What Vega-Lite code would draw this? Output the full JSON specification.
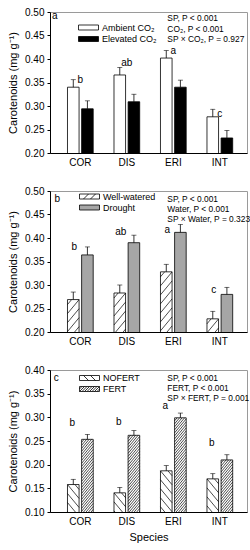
{
 "$schema": "https://vega.github.io/schema/vega-lite/v6.json",
 "background": "white",
 "padding": {"left": 7, "top": 6, "right": 0, "bottom": 0},
 "datasets": {
  "bars": [
   {"panel": "a", "species": "COR", "treatment": "Ambient CO₂", "value": 0.340, "upper": 0.356},
   {"panel": "a", "species": "COR", "treatment": "Elevated CO₂", "value": 0.294, "upper": 0.311},
   {"panel": "a", "species": "DIS", "treatment": "Ambient CO₂", "value": 0.366, "upper": 0.382},
   {"panel": "a", "species": "DIS", "treatment": "Elevated CO₂", "value": 0.309, "upper": 0.325},
   {"panel": "a", "species": "ERI", "treatment": "Ambient CO₂", "value": 0.402, "upper": 0.418},
   {"panel": "a", "species": "ERI", "treatment": "Elevated CO₂", "value": 0.340, "upper": 0.355},
   {"panel": "a", "species": "INT", "treatment": "Ambient CO₂", "value": 0.277, "upper": 0.293},
   {"panel": "a", "species": "INT", "treatment": "Elevated CO₂", "value": 0.232, "upper": 0.248},
   {"panel": "b", "species": "COR", "treatment": "Well-watered", "value": 0.269, "upper": 0.285},
   {"panel": "b", "species": "COR", "treatment": "Drought", "value": 0.364, "upper": 0.381},
   {"panel": "b", "species": "DIS", "treatment": "Well-watered", "value": 0.283, "upper": 0.300},
   {"panel": "b", "species": "DIS", "treatment": "Drought", "value": 0.390, "upper": 0.406},
   {"panel": "b", "species": "ERI", "treatment": "Well-watered", "value": 0.328, "upper": 0.344},
   {"panel": "b", "species": "ERI", "treatment": "Drought", "value": 0.412, "upper": 0.429},
   {"panel": "b", "species": "INT", "treatment": "Well-watered", "value": 0.228, "upper": 0.244},
   {"panel": "b", "species": "INT", "treatment": "Drought", "value": 0.280, "upper": 0.295},
   {"panel": "c", "species": "COR", "treatment": "NOFERT", "value": 0.158, "upper": 0.169},
   {"panel": "c", "species": "COR", "treatment": "FERT", "value": 0.2535, "upper": 0.264},
   {"panel": "c", "species": "DIS", "treatment": "NOFERT", "value": 0.1405, "upper": 0.152},
   {"panel": "c", "species": "DIS", "treatment": "FERT", "value": 0.262, "upper": 0.272},
   {"panel": "c", "species": "ERI", "treatment": "NOFERT", "value": 0.187, "upper": 0.198},
   {"panel": "c", "species": "ERI", "treatment": "FERT", "value": 0.299, "upper": 0.309},
   {"panel": "c", "species": "INT", "treatment": "NOFERT", "value": 0.170, "upper": 0.181},
   {"panel": "c", "species": "INT", "treatment": "FERT", "value": 0.210, "upper": 0.221}
  ],
  "letters": [
   {"panel": "a", "species": "COR", "letter": "b", "ly": 0.356},
   {"panel": "a", "species": "DIS", "letter": "ab", "ly": 0.392},
   {"panel": "a", "species": "ERI", "letter": "a", "ly": 0.416},
   {"panel": "a", "species": "INT", "letter": "c", "ly": 0.282},
   {"panel": "b", "species": "COR", "letter": "b", "ly": 0.380},
   {"panel": "b", "species": "DIS", "letter": "ab", "ly": 0.412},
   {"panel": "b", "species": "ERI", "letter": "a", "ly": 0.416},
   {"panel": "b", "species": "INT", "letter": "c", "ly": 0.290},
   {"panel": "c", "species": "COR", "letter": "b", "ly": 0.287},
   {"panel": "c", "species": "DIS", "letter": "b", "ly": 0.291},
   {"panel": "c", "species": "ERI", "letter": "a", "ly": 0.324},
   {"panel": "c", "species": "INT", "letter": "b", "ly": 0.246}
  ],
  "notes": [
   {"panel": "a", "tag": "a", "note": "SP, P < 0.001\nCO₂, P < 0.001\nSP × CO₂, P = 0.927"},
   {"panel": "b", "tag": "b", "note": "SP, P < 0.001\nWater, P < 0.001\nSP × Water, P = 0.323"},
   {"panel": "c", "tag": "c", "note": "SP, P < 0.001\nFERT, P < 0.001\nSP × FERT, P = 0.001"}
  ]
 },
 "vconcat": [
  {
   "width": 197, "height": 141,
   "layer": [
    {"data": {"name": "bars"}, "transform": [{"filter": "datum.panel === 'a'"}],
     "mark": {"type": "bar", "stroke": "black", "strokeWidth": 0.8, "clip": true},
     "encoding": {
      "x": {"field": "species", "type": "nominal", "scale": {"domain": ["COR", "DIS", "ERI", "INT"], "paddingInner": 0.447, "paddingOuter": 0.342, "align": 0.55}, "axis": {"ticks": false, "labelAngle": 0, "labelPadding": 4}, "title": null},
      "xOffset": {"field": "treatment", "type": "nominal", "scale": {"domain": ["Ambient CO₂", "Elevated CO₂"], "paddingInner": 0.18, "paddingOuter": 0}},
      "y": {"field": "value", "type": "quantitative", "scale": {"domain": [0.2, 0.5], "zero": false, "nice": false}, "axis": {"values": [0.2, 0.25, 0.3, 0.35, 0.4, 0.45, 0.5], "tickCount": 7, "format": ".2f", "labelOverlap": false}, "title": "Carotenoids (mg g⁻¹)"},
      "fill": {"field": "treatment", "type": "nominal", "scale": {"domain": ["Ambient CO₂", "Elevated CO₂"], "range": ["white", "black"]},
        "legend": {"orient": "none", "legendX": 33, "legendY": 10, "title": null, "symbolType": "M-2,-0.5H2V0.5H-2Z", "symbolSize": 100, "symbolStrokeColor": "black", "symbolStrokeWidth": 0.8, "labelFontSize": 9, "labelOffset": 8, "rowPadding": 0.5, "padding": 0}}
     }},
    {"data": {"name": "bars"}, "transform": [{"filter": "datum.panel === 'a'"}],
     "mark": {"type": "rule", "color": "black", "strokeWidth": 0.8},
     "encoding": {
      "x": {"field": "species", "type": "nominal", "title": null},
      "xOffset": {"field": "treatment", "type": "nominal"},
      "y": {"field": "value", "type": "quantitative", "title": "Carotenoids (mg g⁻¹)"},
      "y2": {"field": "upper"}
     }},
    {"data": {"name": "bars"}, "transform": [{"filter": "datum.panel === 'a'"}],
     "mark": {"type": "tick", "color": "black", "thickness": 0.8, "size": 5},
     "encoding": {
      "x": {"field": "species", "type": "nominal", "title": null},
      "xOffset": {"field": "treatment", "type": "nominal"},
      "y": {"field": "upper", "type": "quantitative", "title": "Carotenoids (mg g⁻¹)"}
     }},
    {"data": {"name": "letters"}, "transform": [{"filter": "datum.panel === 'a'"}],
     "mark": {"type": "text", "fontSize": 10, "baseline": "middle", "dx": 0},
     "encoding": {
      "x": {"field": "species", "type": "nominal", "title": null},
      "y": {"field": "ly", "type": "quantitative", "title": "Carotenoids (mg g⁻¹)"},
      "text": {"field": "letter"}
     }},
    {"data": {"name": "notes"}, "transform": [{"filter": "datum.panel === 'a'"}],
     "mark": {"type": "text", "fontSize": 10, "baseline": "middle", "dx": -25.5, "dy": 4},
     "encoding": {"x": {"datum": "COR"}, "y": {"datum": 0.5}, "text": {"field": "tag"}}},
    {"data": {"name": "notes"}, "transform": [{"filter": "datum.panel === 'a'"}],
     "mark": {"type": "text", "fontSize": 8.4, "align": "left", "baseline": "top", "lineBreak": "\n", "lineHeight": 10.5, "dx": -6, "dy": 2},
     "encoding": {"x": {"datum": "ERI"}, "y": {"datum": 0.5}, "text": {"field": "note"}}}
   ]
  },
  {
   "width": 197, "height": 141,
   "layer": [
    {"data": {"name": "bars"}, "transform": [{"filter": "datum.panel === 'b'"}],
     "mark": {"type": "bar", "stroke": "black", "strokeWidth": 0.8, "clip": true},
     "encoding": {
      "x": {"field": "species", "type": "nominal", "scale": {"domain": ["COR", "DIS", "ERI", "INT"], "paddingInner": 0.447, "paddingOuter": 0.342, "align": 0.55}, "axis": {"ticks": false, "labelAngle": 0, "labelPadding": 4}, "title": null},
      "xOffset": {"field": "treatment", "type": "nominal", "scale": {"domain": ["Well-watered", "Drought"], "paddingInner": 0.18, "paddingOuter": 0}},
      "y": {"field": "value", "type": "quantitative", "scale": {"domain": [0.2, 0.5], "zero": false, "nice": false}, "axis": {"values": [0.2, 0.25, 0.3, 0.35, 0.4, 0.45, 0.5], "tickCount": 7, "format": ".2f", "labelOverlap": false}, "title": "Carotenoids (mg g⁻¹)"},
      "fill": {"field": "treatment", "type": "nominal", "scale": {"domain": ["Well-watered", "Drought"], "range": ["white", "#a6a6a6"]},
        "legend": {"orient": "none", "legendX": 34, "legendY": 0, "title": null, "symbolType": "M-2,-0.5H2V0.5H-2Z", "symbolSize": 100, "symbolStrokeColor": "black", "symbolStrokeWidth": 0.8, "labelFontSize": 9, "labelOffset": 8, "rowPadding": -1.5, "padding": 0,
          "encode": {"symbols": {"update": {"shape": {"signal": "datum.value === 'Well-watered' ? 'M-2,-0.5H2V0.5H-2ZM-1.2,0.5L-0.2,-0.5M0.2,0.5L1.2,-0.5' : 'M-2,-0.5H2V0.5H-2Z'"}}}}}}
     }},
    {"data": {"name": "bars"}, "transform": [{"filter": "datum.panel === 'b' && datum.treatment === 'Well-watered'"}],
     "mark": {"type": "point", "filled": false, "stroke": "black", "strokeWidth": 0.7, "size": 400, "opacity": 1, "clip": true, "shape": "M-0.58,0.5L-0.163,0M-0.58,1.4L0.58,0.008M-0.58,2.3L0.58,0.908M-0.58,3.2L0.58,1.808M-0.58,4.1L0.58,2.708M-0.58,5L0.58,3.608M-0.58,5.9L0.58,4.508M-0.58,6.8L0.58,5.408M-0.58,7.7L0.58,6.308M-0.58,8.6L0.58,7.208M-0.58,9.5L0.58,8.108M-0.58,10.4L0.58,9.008M-0.58,11.3L0.58,9.908"},
     "encoding": {
      "x": {"field": "species", "type": "nominal", "title": null},
      "xOffset": {"field": "treatment", "type": "nominal"},
      "y": {"field": "value", "type": "quantitative", "title": "Carotenoids (mg g⁻¹)"}
     }},
    {"data": {"name": "bars"}, "transform": [{"filter": "datum.panel === 'b'"}],
     "mark": {"type": "rule", "color": "black", "strokeWidth": 0.8},
     "encoding": {
      "x": {"field": "species", "type": "nominal", "title": null},
      "xOffset": {"field": "treatment", "type": "nominal"},
      "y": {"field": "value", "type": "quantitative", "title": "Carotenoids (mg g⁻¹)"},
      "y2": {"field": "upper"}
     }},
    {"data": {"name": "bars"}, "transform": [{"filter": "datum.panel === 'b'"}],
     "mark": {"type": "tick", "color": "black", "thickness": 0.8, "size": 5},
     "encoding": {
      "x": {"field": "species", "type": "nominal", "title": null},
      "xOffset": {"field": "treatment", "type": "nominal"},
      "y": {"field": "upper", "type": "quantitative", "title": "Carotenoids (mg g⁻¹)"}
     }},
    {"data": {"name": "letters"}, "transform": [{"filter": "datum.panel === 'b'"}],
     "mark": {"type": "text", "fontSize": 10, "baseline": "middle", "dx": -6},
     "encoding": {
      "x": {"field": "species", "type": "nominal", "title": null},
      "y": {"field": "ly", "type": "quantitative", "title": "Carotenoids (mg g⁻¹)"},
      "text": {"field": "letter"}
     }},
    {"data": {"name": "notes"}, "transform": [{"filter": "datum.panel === 'b'"}],
     "mark": {"type": "text", "fontSize": 10, "baseline": "middle", "dx": -23, "dy": 8},
     "encoding": {"x": {"datum": "COR"}, "y": {"datum": 0.5}, "text": {"field": "tag"}}},
    {"data": {"name": "notes"}, "transform": [{"filter": "datum.panel === 'b'"}],
     "mark": {"type": "text", "fontSize": 8.4, "align": "left", "baseline": "top", "lineBreak": "\n", "lineHeight": 10, "dx": -6, "dy": 4},
     "encoding": {"x": {"datum": "ERI"}, "y": {"datum": 0.5}, "text": {"field": "note"}}}
   ]
  },
  {
   "width": 197, "height": 142,
   "layer": [
    {"data": {"name": "bars"}, "transform": [{"filter": "datum.panel === 'c'"}],
     "mark": {"type": "bar", "stroke": "black", "strokeWidth": 0.8, "clip": true},
     "encoding": {
      "x": {"field": "species", "type": "nominal", "scale": {"domain": ["COR", "DIS", "ERI", "INT"], "paddingInner": 0.447, "paddingOuter": 0.342, "align": 0.55}, "axis": {"ticks": false, "labelAngle": 0, "labelPadding": 4, "titlePadding": 5, "titleFontSize": 11}, "title": "Species"},
      "xOffset": {"field": "treatment", "type": "nominal", "scale": {"domain": ["NOFERT", "FERT"], "paddingInner": 0.18, "paddingOuter": 0}},
      "y": {"field": "value", "type": "quantitative", "scale": {"domain": [0.1, 0.4], "zero": false, "nice": false}, "axis": {"values": [0.1, 0.15, 0.2, 0.25, 0.3, 0.35, 0.4], "tickCount": 7, "format": ".2f", "labelOverlap": false}, "title": "Carotenoids (mg g⁻¹)"},
      "fill": {"field": "treatment", "type": "nominal", "scale": {"domain": ["NOFERT", "FERT"], "range": ["white", "white"]},
        "legend": {"orient": "none", "legendX": 34, "legendY": 2.5, "title": null, "symbolType": "M-2,-0.5H2V0.5H-2Z", "symbolSize": 100, "symbolStrokeColor": "black", "symbolStrokeWidth": 0.8, "labelFontSize": 9, "labelOffset": 8, "rowPadding": -1.5, "padding": 0,
          "encode": {"symbols": {"update": {"shape": {"signal": "datum.value === 'NOFERT' ? 'M-2,-0.5H2V0.5H-2ZM-1.2,-0.5L-0.2,0.5M0.2,-0.5L1.2,0.5' : 'M-2,-0.5H2V0.5H-2ZM-2,0L-1.5,-0.5M-2,0.5L-1,-0.5M-1.5,0.5L-0.5,-0.5M-1,0.5L0,-0.5M-0.5,0.5L0.5,-0.5M0,0.5L1,-0.5M0.5,0.5L1.5,-0.5M1,0.5L2,-0.5M1.5,0.5L2,0'"}}}}}}
     }},
    {"data": {"name": "bars"}, "transform": [{"filter": "datum.panel === 'c' && datum.treatment === 'NOFERT'"}],
     "mark": {"type": "point", "filled": false, "stroke": "black", "strokeWidth": 0.7, "size": 400, "opacity": 1, "clip": true, "shape": "M0.17,0L0.58,0.492M-0.58,0L0.58,1.392M-0.58,0.9L0.58,2.292M-0.58,1.8L0.58,3.192M-0.58,2.7L0.58,4.092M-0.58,3.6L0.58,4.992M-0.58,4.5L0.58,5.892M-0.58,5.4L0.58,6.792M-0.58,6.3L0.58,7.692M-0.58,7.2L0.58,8.592M-0.58,8.1L0.58,9.492M-0.58,9L0.58,10.392M-0.58,9.9L0.58,11.292"},
     "encoding": {
      "x": {"field": "species", "type": "nominal", "title": "Species"},
      "xOffset": {"field": "treatment", "type": "nominal"},
      "y": {"field": "value", "type": "quantitative", "title": "Carotenoids (mg g⁻¹)"}
     }},
    {"data": {"name": "bars"}, "transform": [{"filter": "datum.panel === 'c' && datum.treatment === 'FERT'"}],
     "mark": {"type": "point", "filled": false, "stroke": "black", "strokeWidth": 0.7, "size": 400, "opacity": 1, "clip": true, "shape": "M-0.58,0.3L-0.33,0M-0.58,0.6L-0.08,0M-0.58,0.9L0.17,0M-0.58,1.2L0.42,0M-0.58,1.5L0.58,0.108M-0.58,1.8L0.58,0.408M-0.58,2.1L0.58,0.708M-0.58,2.4L0.58,1.008M-0.58,2.7L0.58,1.308M-0.58,3L0.58,1.608M-0.58,3.3L0.58,1.908M-0.58,3.6L0.58,2.208M-0.58,3.9L0.58,2.508M-0.58,4.2L0.58,2.808M-0.58,4.5L0.58,3.108M-0.58,4.8L0.58,3.408M-0.58,5.1L0.58,3.708M-0.58,5.4L0.58,4.008M-0.58,5.7L0.58,4.308M-0.58,6L0.58,4.608M-0.58,6.3L0.58,4.908M-0.58,6.6L0.58,5.208M-0.58,6.9L0.58,5.508M-0.58,7.2L0.58,5.808M-0.58,7.5L0.58,6.108M-0.58,7.8L0.58,6.408M-0.58,8.1L0.58,6.708M-0.58,8.4L0.58,7.008M-0.58,8.7L0.58,7.308M-0.58,9L0.58,7.608M-0.58,9.3L0.58,7.908M-0.58,9.6L0.58,8.208M-0.58,9.9L0.58,8.508M-0.58,10.2L0.58,8.808M-0.58,10.5L0.58,9.108M-0.58,10.8L0.58,9.408M-0.58,11.1L0.58,9.708"},
     "encoding": {
      "x": {"field": "species", "type": "nominal", "title": "Species"},
      "xOffset": {"field": "treatment", "type": "nominal"},
      "y": {"field": "value", "type": "quantitative", "title": "Carotenoids (mg g⁻¹)"}
     }},
    {"data": {"name": "bars"}, "transform": [{"filter": "datum.panel === 'c'"}],
     "mark": {"type": "rule", "color": "black", "strokeWidth": 0.8},
     "encoding": {
      "x": {"field": "species", "type": "nominal", "title": "Species"},
      "xOffset": {"field": "treatment", "type": "nominal"},
      "y": {"field": "value", "type": "quantitative", "title": "Carotenoids (mg g⁻¹)"},
      "y2": {"field": "upper"}
     }},
    {"data": {"name": "bars"}, "transform": [{"filter": "datum.panel === 'c'"}],
     "mark": {"type": "tick", "color": "black", "thickness": 0.8, "size": 5},
     "encoding": {
      "x": {"field": "species", "type": "nominal", "title": "Species"},
      "xOffset": {"field": "treatment", "type": "nominal"},
      "y": {"field": "upper", "type": "quantitative", "title": "Carotenoids (mg g⁻¹)"}
     }},
    {"data": {"name": "letters"}, "transform": [{"filter": "datum.panel === 'c'"}],
     "mark": {"type": "text", "fontSize": 10, "baseline": "middle", "dx": -8},
     "encoding": {
      "x": {"field": "species", "type": "nominal", "title": "Species"},
      "y": {"field": "ly", "type": "quantitative", "title": "Carotenoids (mg g⁻¹)"},
      "text": {"field": "letter"}
     }},
    {"data": {"name": "notes"}, "transform": [{"filter": "datum.panel === 'c'"}],
     "mark": {"type": "text", "fontSize": 10, "baseline": "middle", "dx": -24, "dy": 8},
     "encoding": {"x": {"datum": "COR"}, "y": {"datum": 0.4}, "text": {"field": "tag"}}},
    {"data": {"name": "notes"}, "transform": [{"filter": "datum.panel === 'c'"}],
     "mark": {"type": "text", "fontSize": 8.4, "align": "left", "baseline": "top", "lineBreak": "\n", "lineHeight": 10, "dx": -6, "dy": 4},
     "encoding": {"x": {"datum": "ERI"}, "y": {"datum": 0.4}, "text": {"field": "note"}}}
   ]
  }
 ],
 "spacing": 38,
 "bounds": "flush",
 "resolve": {"scale": {"x": "independent", "y": "independent", "xOffset": "independent", "fill": "independent"}},
 "config": {
  "font": "Liberation Sans",
  "view": {"stroke": "#9a9a9a", "strokeWidth": 1},
  "axis": {"grid": false, "domainColor": "black", "tickColor": "black", "labelColor": "black", "titleColor": "black", "labelFontSize": 10, "titleFontSize": 11, "titleFontWeight": "normal", "domainWidth": 1, "tickWidth": 1, "labelOverlap": false, "tickSize": 3, "labelPadding": 3},
  "axisY": {"titlePadding": 6, "tickCount": 7},
  "legend": {"labelColor": "black"},
  "text": {"color": "black"}
 }
}
